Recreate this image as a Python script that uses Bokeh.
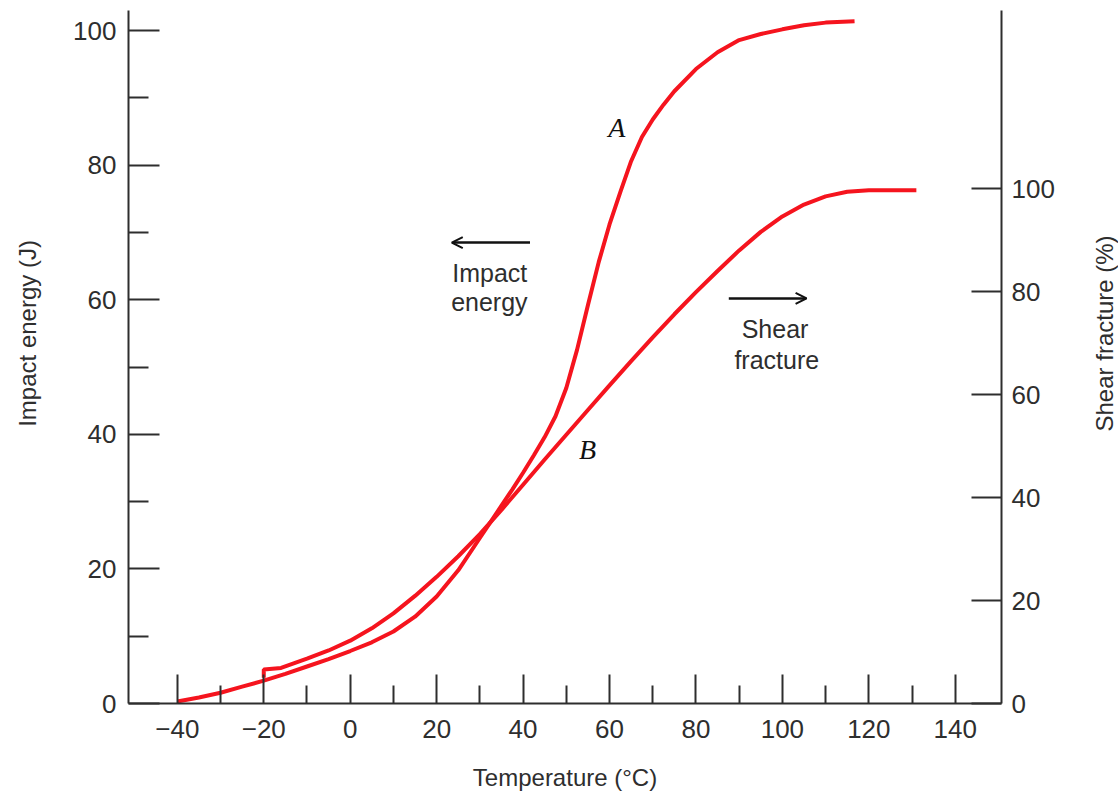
import math
from bokeh.plotting import figure
from bokeh.layouts import row
from bokeh.models import Range1d, LinearAxis, FixedTicker, Arrow, OpenHead, Label
from bokeh.embed import file_html
from bokeh.resources import INLINE

# Curve A: impact energy (J) vs temperature (°C), left axis
temp_a = [-40, -35, -30, -25, -20, -15, -10, -5, 0, 5, 10, 15, 20, 25, 30, 32.5, 35,
          37.5, 40, 42.5, 45, 47.5, 50, 52.5, 55, 57.5, 60, 62.5, 65, 67.5, 70, 72.5,
          75, 80, 85, 90, 95, 100, 105, 110, 116.7]
energy_a = [0.3, 0.9, 1.6, 2.5, 3.4, 4.4, 5.5, 6.6, 7.8, 9.1, 10.7, 12.9, 15.9, 19.8,
            24.6, 27.0, 29.4, 31.8, 34.3, 36.9, 39.6, 42.7, 46.9, 52.6, 59.2, 65.6,
            71.2, 76.0, 80.6, 84.2, 86.8, 89.0, 91.0, 94.3, 96.8, 98.6, 99.5, 100.2,
            100.8, 101.2, 101.4]

# Curve B: shear fracture (%) vs temperature (°C), right axis
temp_b = [-20, -20, -16, -10, -5, 0, 5, 10, 15, 20, 25, 30, 35, 40, 45, 50, 55, 60,
          65, 70, 75, 80, 85, 90, 95, 100, 105, 110, 115, 120, 131]
shear_b = [5.0, 6.6, 6.9, 8.7, 10.3, 12.2, 14.6, 17.5, 20.9, 24.6, 28.6, 32.9, 37.6,
           42.5, 47.4, 52.2, 57.0, 61.8, 66.5, 71.1, 75.6, 79.9, 84.0, 88.0, 91.6,
           94.6, 96.9, 98.5, 99.4, 99.7, 99.7]

x_ticks = [-40, -20, 0, 20, 40, 60, 80, 100, 120, 140]
x_minor = [-30, -10, 10, 30, 50, 70, 90, 110, 130]
x_labels = {-40: "\u221240", -20: "\u221220"}
y_ticks = [0, 20, 40, 60, 80, 100]
y_minor = [10, 30, 50, 70, 90]
r_ticks = [0, 20, 40, 60, 80, 100]

RED = "#f5141e"
INK = "#2e2e2e"
FONT = "Liberation Sans"
H = 793
TOP, BOTTOM = 10, 90
PX_PER_DEG = 873 / 202.0

def side_panel(width, left_px, title):
    # narrow panel holding a vertical axis title, same vertical scale as the plot
    x0 = -51.3 + (left_px - 128) / PX_PER_DEG
    x1 = x0 + width / PX_PER_DEG
    f = figure(width=width, height=H, x_range=Range1d(x0, x1),
               y_range=Range1d(0, 103.0), output_backend="svg",
               toolbar_location=None, x_axis_location=None, y_axis_location=None,
               min_border_left=0, min_border_right=0,
               min_border_top=TOP, min_border_bottom=BOTTOM)
    f.outline_line_color = None
    f.grid.grid_line_color = None
    f.add_layout(Label(x=x0 + (title[1] - left_px) / PX_PER_DEG, y=55.0,
                       text=title[0], angle=math.pi / 2,
                       text_font=FONT, text_font_size="24px", text_color=INK,
                       text_align="center", text_baseline="middle"))
    return f

LEFT_W = 56
MAIN_W = 72 + 873 + 60

p = figure(width=MAIN_W, height=H,
           x_range=Range1d(-51.3, 150.7), y_range=Range1d(0, 103.0),
           output_backend="svg", toolbar_location=None,
           min_border_left=72, min_border_right=60,
           min_border_top=TOP, min_border_bottom=BOTTOM)
p.outline_line_color = None
p.grid.grid_line_color = None

p.extra_y_ranges = {"shear": Range1d(0, 134.6)}
ra = LinearAxis(y_range_name="shear")
p.add_layout(ra, "right")

def style(ax, ticks, minor, tick_in, minor_in):
    ax.ticker = FixedTicker(ticks=ticks, minor_ticks=minor)
    ax.axis_line_color = INK
    ax.axis_line_width = 2
    ax.major_tick_line_color = INK
    ax.major_tick_line_width = 2
    ax.minor_tick_line_color = INK
    ax.minor_tick_line_width = 2
    ax.major_tick_in = tick_in
    ax.major_tick_out = 0
    ax.minor_tick_in = minor_in
    ax.minor_tick_out = 0
    ax.major_label_text_font = FONT
    ax.major_label_text_font_size = "26px"
    ax.major_label_text_color = INK
    ax.axis_label_text_font = FONT
    ax.axis_label_text_font_size = "24px"
    ax.axis_label_text_font_style = "normal"
    ax.axis_label_text_color = INK

xa = p.xaxis[0]
style(xa, x_ticks, x_minor, 29, 18)
xa.axis_label = "Temperature (\u00b0C)"
xa.major_label_overrides = x_labels
xa.major_label_standoff = 16
xa.axis_label_standoff = 23

ya = p.yaxis[0]
style(ya, y_ticks, y_minor, 31, 20)
ya.major_label_standoff = 12

style(ra, r_ticks, [], 30, 0)
ra.major_label_standoff = 10

p.line(temp_a, energy_a, line_color=RED, line_width=4)
p.line(temp_b, shear_b, y_range_name="shear", line_color=RED, line_width=4)

# curve letters
for txt, x, y in [("A", 61.7, 85.6), ("B", 54.9, 37.8)]:
    p.add_layout(Label(x=x, y=y, text=txt, text_font="Liberation Serif",
                       text_font_style="italic", text_font_size="28px",
                       text_color="#111111", text_align="center",
                       text_baseline="middle"))

# arrows
p.add_layout(Arrow(end=OpenHead(size=11, line_width=2, line_color="#111111"),
                   x_start=41.6, y_start=68.5, x_end=23.5, y_end=68.5,
                   line_width=2.5, line_color="#111111"))
p.add_layout(Arrow(end=OpenHead(size=11, line_width=2, line_color="#111111"),
                   x_start=87.6, y_start=60.2, x_end=105.6, y_end=60.2,
                   line_width=2.5, line_color="#111111"))

for txt, x, y in [("Impact", 32.3, 64.0), ("energy", 32.2, 59.7),
                  ("Shear", 98.3, 55.7), ("fracture", 98.7, 51.0)]:
    p.add_layout(Label(x=x, y=y, text=txt, text_font=FONT, text_font_size="25px",
                       text_color=INK, text_align="center",
                       text_baseline="alphabetic"))

RIGHT_X = LEFT_W + MAIN_W
pl = side_panel(LEFT_W, 0, ("Impact energy (J)", 27))
pr = side_panel(1118 - RIGHT_X, RIGHT_X, ("Shear fracture (%)", 1104))

layout = row(pl, p, pr)
open("out.html", "w").write(file_html(layout, INLINE))
